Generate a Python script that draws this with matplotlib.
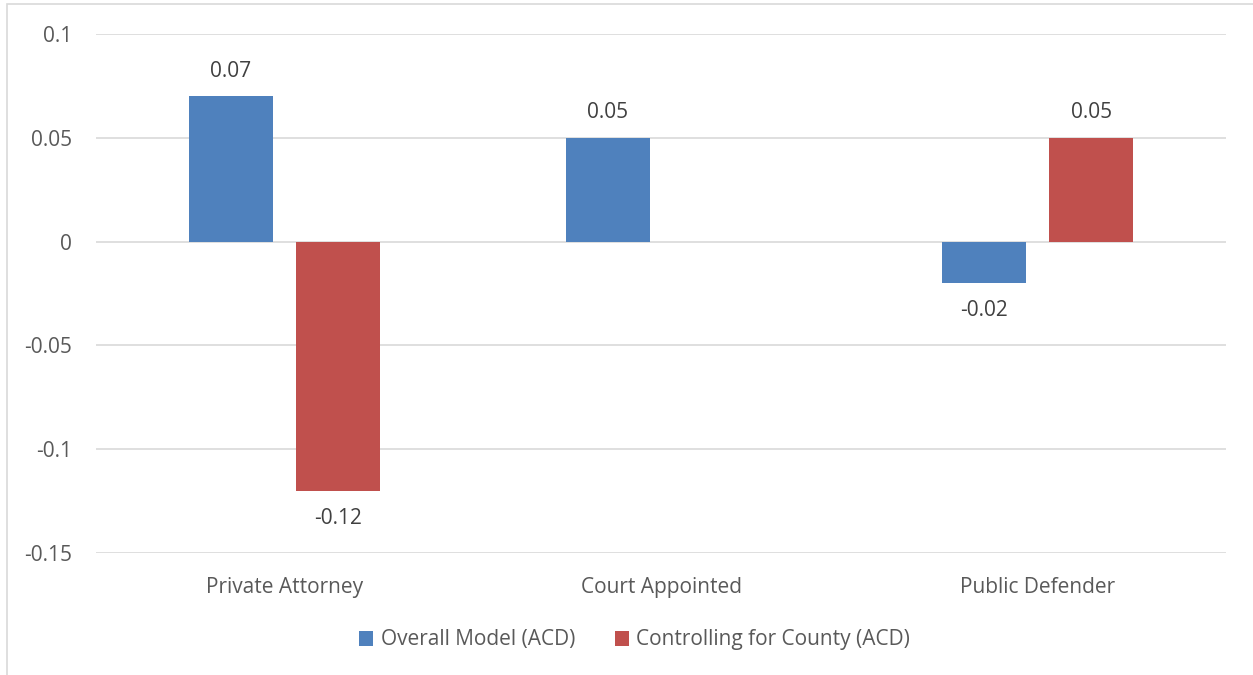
import numpy as np
import matplotlib
matplotlib.use("Agg")
import matplotlib.pyplot as plt
import matplotlib.patches as ptch
from matplotlib.ticker import FuncFormatter

# Chart data
categories = ["Private Attorney", "Court Appointed", "Public Defender"]
overall = [0.07, 0.05, -0.02]
county = [-0.12, np.nan, 0.05]
series_names = ["Overall Model (ACD)", "Controlling for County (ACD)"]
yticks = [-0.15, -0.1, -0.05, 0, 0.05, 0.1]

# Colors
blue = "#4F81BD"
red = "#C0504D"
label_color = "#404040"
tick_color = "#595959"

plt.rcParams["font.family"] = ["Open Sans", "DejaVu Sans"]

fig = plt.figure(figsize = (12.53, 6.75), dpi = 100)
ax = fig.add_axes([0.0766, 0.1807, 0.9019, 0.7689])

# Chart area border
fig.patches.append(ptch.Rectangle((0.0056, -0.1), 1.2, 1.094, transform = fig.transFigure, fill = False, edgecolor = "#D9D9D9", linewidth = 1.2))

x = np.arange(len(categories))
width = 0.223
offset = 0.142
bars1 = ax.bar(x - offset, overall, width, color = blue, label = series_names[0], zorder = 3)
bars2 = ax.bar(x + offset, county, width, color = red, label = series_names[1], zorder = 3)

# Data labels
for bars, vals in ((bars1, overall), (bars2, county)):
	for b, v in zip(bars, vals):
		if np.isnan(v):
			continue
		ax.annotate("%g" % v, (b.get_x() + b.get_width() / 2, v), xytext = (0, 18 if v >= 0 else -20), textcoords = "offset points", ha = "center", va = "center", fontsize = 15, color = label_color)

# Axes styling
ax.set_xlim(-0.5, len(categories) - 0.5)
ax.set_ylim(-0.15, 0.1)
ax.set_yticks(yticks)
ax.yaxis.set_major_formatter(FuncFormatter(lambda v, p: "%g" % round(v, 2)))
ax.set_xticks(x)
ax.set_xticklabels(categories)
ax.tick_params(axis = "both", length = 0, labelsize = 15, colors = tick_color)
ax.tick_params(axis = "y", pad = 17)
ax.tick_params(axis = "x", pad = 17)
ax.grid(axis = "y", color = "#D9D9D9", linewidth = 1.2, zorder = 0)
for s in ax.spines.values():
	s.set_visible(False)

# Legend
ax.legend(loc = "center", bbox_to_anchor = (634.5 / 1253, 1 - 640 / 675), bbox_transform = fig.transFigure, ncol = 2, frameon = False, fontsize = 15, handlelength = 0.7, handleheight = 0.7, handletextpad = 0.35, columnspacing = 1.9, labelcolor = tick_color)

plt.savefig("out.png", dpi = 100)
